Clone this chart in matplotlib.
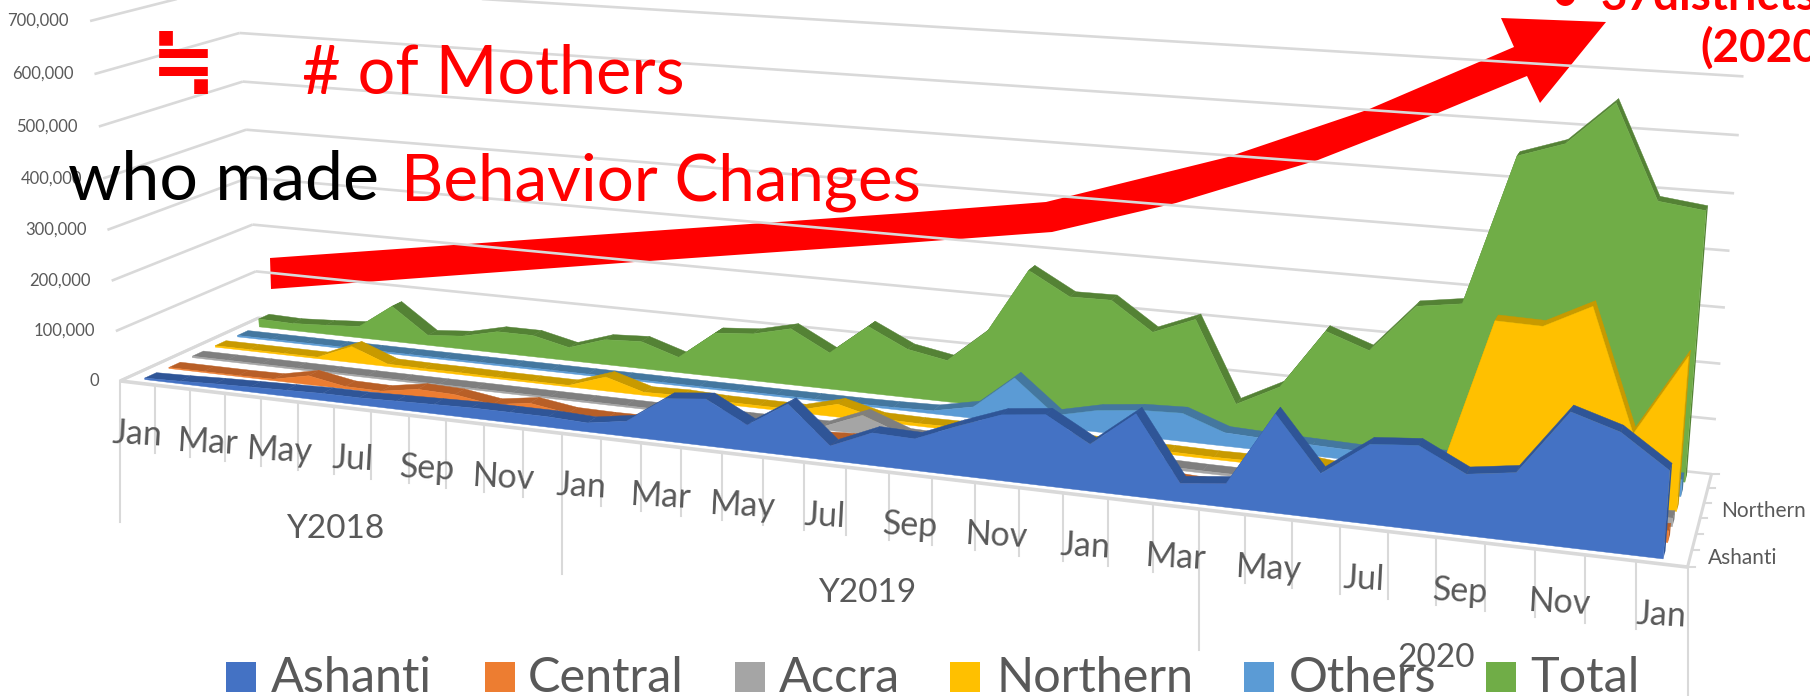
import numpy as np
import matplotlib
matplotlib.use("Agg")
import matplotlib.pyplot as plt
from matplotlib.patches import Polygon, Rectangle

plt.rcParams['font.family'] = ['Lato', 'DejaVu Sans']

# ---------- data (thousands of mothers) ----------
series_names = ["Ashanti", "Central", "Accra", "Northern", "Others", "Total"]
ashanti = [3,5,8,10,12,14,14,16,18,20,20,20,17,29,80,88,48,96,27,60,58,90,119,128,84,147,33,42,173,78,138,145,105,117,228,203,148]
central = [2,2,2,3,18,5,4,16,14,3,14,3,2,3,24,12,10,10,14,14,12,10,12,12,10,12,8,8,12,10,10,14,14,16,16,14,20]
accra = [3,3,3,3,3,3,3,3,3,3,3,3,3,3,4,4,4,5,36,8,6,6,6,6,5,5,4,4,6,6,6,8,10,12,12,12,15]
northern = [3,3,3,3,33,5,4,4,3,3,3,28,6,8,5,5,5,25,6,5,6,15,8,6,5,5,4,5,14,6,16,20,300,298,340,127,270]
others = [3,3,3,3,3,3,3,3,3,3,3,3,3,3,3,3,3,3,4,6,22,86,23,41,50,53,25,22,20,18,22,25,25,28,28,28,30]
total = [17,15,19,24,74,21,27,44,44,27,51,55,31,88,94,112,72,132,95,81,146,270,227,228,175,207,55,96,208,180,269,281,550,577,653,490,480]
values = [ashanti, central, accra, northern, others, total]

month_labels = ["Jan","Mar","May","Jul","Sep","Nov"]*3 + ["Jan"]
year_labels = ["Y2018", "Y2019", "2020"]
year_ticks = [0, 12, 27, 37]
y_ticks = [0,100,200,300,400,500,600,700]

face = ["#4472C4","#ED7D31","#A5A5A5","#FFC000","#5B9BD5","#70AD47"]
band = ["#2F5597","#B85F27","#7F7F7F","#C89A00","#44779F","#548235"]
GRID = "#D9D9D9"
TXT = "#595959"

# ---------- perspective camera, fitted to the chart's box ----------
# (month position, value in thousands, depth) -> pixel
anchors = [
 (0,0,0,120.6,381),(0,100,0,115.4,331),(0,200,0,110.8,281),(0,300,0,107,230),
 (0,400,0,103.8,178),(0,500,0,99.3,127),(0,600,0,94,74),(0,700,0,90.6,20.7),
 (0,0,1,259.7,316.7),(0,100,1,255.7,271.7),(0,200,1,252.2,225),(0,300,1,249.3,176.7),
 (0,400,1,246.5,130),(0,500,1,242.4,81.7),(0,600,1,239.5,33.3),
 (37,0,0,1687.3,566),(12,0,0,561.6,433.3),(27,0,0,1199.4,510),
 (37,0,1,1712,474.3),(37,100,1,1716,419),(37,200,1,1720,364),(37,300,1,1724.6,308),
 (37,400,1,1729,251),(37,500,1,1734.4,193),(37,600,1,1739,135),(37,700,1,1743.6,76),
]
A, b = [], []
for t, v, d, u, w in anchors:
    A.append([t,v,d,1,0,0,0,0,-u*t,-u*v,-u*d]); b.append(u)
    A.append([0,0,0,0,t,v,d,1,-w*t,-w*v,-w*d]); b.append(w)
p = np.linalg.lstsq(np.array(A, float), np.array(b, float), rcond=None)[0]
P = np.append(p, 1.0).reshape(3, 4)

def project(t, v, d):
    t, v, d = np.broadcast_arrays(np.asarray(t, float), np.asarray(v, float), np.asarray(d, float))
    q = P @ np.stack([t, v, d, np.ones_like(t)])
    return q[0] / q[2], q[1] / q[2]

fig = plt.figure(figsize=(18.10, 6.96), dpi=100, facecolor="white")
ax = fig.add_axes([0, 0, 1, 1])
ax.set_xlim(0, 1810); ax.set_ylim(696, 0); ax.axis("off")

# ---------- arrow, under the gridlines ----------
arrow = [(270,258),(905,213),(1046,202),(1228,157),(1367,110),(1514,47),(1501,18),(1606,22),
         (1540,103),(1527,76),(1433,115),(1318,160),(1176,203),(1052,232),(905,243),(635,262),(271,289)]
ax.add_patch(Polygon(arrow, closed=True, fc="#FF0000", ec="none", zorder=1))

# ---------- walls ----------
def seg(p0, p1, lw=1.9, z=2):
    xs, ys = project(*zip(p0, p1))
    ax.plot(xs, ys, color=GRID, lw=lw, zorder=z, solid_capstyle="butt", clip_on=False)

for v in y_ticks:
    seg((0, v, 0), (0, v, 1))
    seg((0, v, 1), (37, v, 1))
seg((0, 0, 0), (37, 0, 0), lw=2.6)
seg((37, 0, 0), (37, 0, 1), lw=2.2)
seg((0, 0, 0), (0, 0, 1), lw=2.2)

# tick marks under the floor
for i in range(38):
    x, y = project(i, 0, 0)
    ln = 141 if i in year_ticks else 68
    ax.plot([x, x], [y, y + ln], color=GRID, lw=1.5, zorder=2)

# depth ticks, right side
for k in range(7):
    x0, y0 = project(37, 0, k / 6)
    ax.plot([x0, x0 + 7], [y0, y0], color=GRID, lw=1.5, zorder=2)

# ---------- area slabs, back to front ----------
depth0, depth_step, thick = 0.05, 0.165, 0.08
for s in range(5, -1, -1):
    vals = np.array(values[s], float)
    ts = np.arange(37) + 0.5
    d0 = depth0 + depth_step * s
    d1 = d0 + thick
    z = 3 + (5 - s) * 0.1
    fx, fy = project(ts, vals, d0)
    bx, by = project(ts, vals, d1)
    for i in range(36):
        ax.add_patch(Polygon([(fx[i], fy[i]), (fx[i+1], fy[i+1]), (bx[i+1], by[i+1]), (bx[i], by[i])],
                             closed=True, fc=band[s], ec=band[s], lw=0.3, zorder=z))
    ex0, ey0 = project(ts[-1], 0, d0)
    ex1, ey1 = project(ts[-1], 0, d1)
    ax.add_patch(Polygon([(fx[-1], fy[-1]), (bx[-1], by[-1]), (ex1, ey1), (ex0, ey0)],
                         closed=True, fc=band[s], ec="none", zorder=z))
    gx, gy = project(ts, 0, d0)
    ax.fill(np.r_[fx, gx[::-1]], np.r_[fy, gy[::-1]], fc=face[s], ec=face[s], lw=0.3, zorder=z + 0.01)

# ---------- axis text ----------
for v in y_ticks:
    x, y = project(0, v, 0)
    ax.text(x - 21, y, f"{v*1000:,}", ha="right", va="center", fontsize=12, color=TXT, zorder=6)

for i, lab in enumerate(month_labels):
    x, y = project(2 * i + 0.5, 0, 0)
    ax.text(x, y + 51, lab, ha="center", va="center", fontsize=24.5, color=TXT, rotation=-3,
            rotation_mode="anchor", zorder=6)

for lab, (x, y) in zip(year_labels, [(335, 529), (867, 593), (1436, 658)]):
    ax.text(x, y, lab, ha="center", va="center", fontsize=24, color=TXT, zorder=8)

ax.text(1708, 558, "Ashanti", ha="left", va="center", fontsize=15, color=TXT)
ax.text(1721, 511, "Northern", ha="left", va="center", fontsize=15, color=TXT)

# ---------- legend ----------
leg_x = [(226, 271), (485, 528), (735, 779), (950, 996), (1244, 1289), (1486, 1530)]
for s, (sx, tx) in enumerate(leg_x):
    ax.add_patch(Rectangle((sx, 661.7), 30, 30, fc=face[s], ec="none", zorder=6))
    ax.text(tx, 691.7, series_names[s], ha="left", va="baseline", fontsize=35, color=TXT, zorder=7)

# ---------- annotations ----------
ax.text(151, 87, "\u2252", ha="left", va="baseline", fontsize=56, color="#FF0000",
        family=["Noto Sans CJK JP", "DejaVu Sans"], fontweight="bold", zorder=9)
ax.text(302, 93, "# of Mothers", ha="left", va="baseline", fontsize=48, color="#FF0000", zorder=9)
ax.text(68, 200, "who made", ha="left", va="baseline", fontsize=49, color="black", zorder=9)
ax.text(401, 200, "Behavior Changes", ha="left", va="baseline", fontsize=47.2, color="#FF0000", zorder=9)
ax.text(1552, 10, "\u2022", ha="left", va="baseline", fontsize=33, color="#FF0000", fontweight="bold", zorder=9)
ax.text(1601, 10, "37districts", ha="left", va="baseline", fontsize=33, color="#FF0000", fontweight="bold", zorder=9)
ax.text(1700, 62, "(2020)", ha="left", va="baseline", fontsize=33, color="#FF0000", fontweight="bold", zorder=9)

fig.savefig("out.png", dpi=100)
